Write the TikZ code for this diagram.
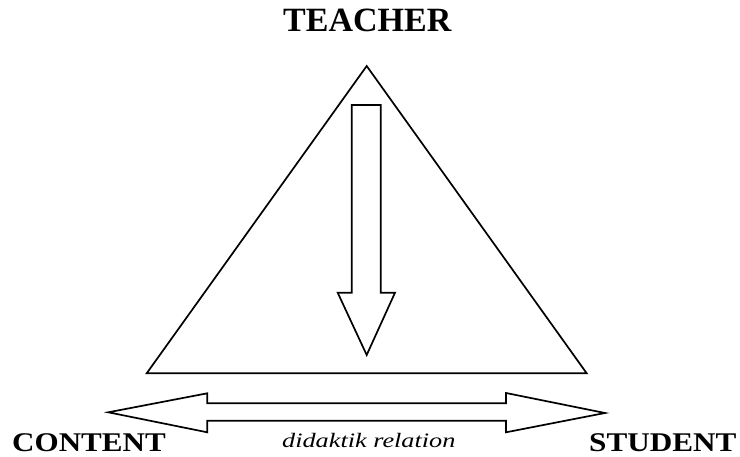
\documentclass[tikz,border=0pt]{standalone}
\usepackage{fontspec}
\usepackage{graphicx}
\setmainfont{Liberation Serif}
\begin{document}
\begin{tikzpicture}[x=1pt,y=-1pt,
  outline/.style={draw=black,line width=1.7pt,line join=miter,fill=white},
  bigcap/.style={inner sep=0pt,anchor=base west,font=\bfseries\fontsize{34}{34}\selectfont},
  smallcap/.style={inner sep=0pt,anchor=base west,font=\bfseries\fontsize{27}{27}\selectfont},
  relation/.style={inner sep=0pt,anchor=base west,font=\itshape\fontsize{20.5}{20.5}\selectfont}]
\useasboundingbox[fill=white] (0,0) rectangle (740,457);
% triangle
\coordinate (apex) at (366.7,66);
\coordinate (bl) at (146.7,373.3);
\coordinate (br) at (586.7,373.3);
\draw[outline,fill=none] (apex) -- (bl) -- (br) -- cycle;
% down arrow
\draw[outline] (351.7,105) -- (380.7,105) -- (380.7,292.7) -- (395,292.7)
  -- (366.7,355) -- (337.7,292.7) -- (351.7,292.7) -- cycle;
% double arrow
\draw[outline] (108.3,412.3) -- (207.3,393.3) -- (207.3,403.3) -- (506,403.3)
  -- (506,393) -- (605,413) -- (506,432.3) -- (506,420.7) -- (207.3,420.7)
  -- (207.3,432.3) -- cycle;
% labels
\node[bigcap] (teacher) at (283,32) {TEACHER};
\node[smallcap] (content) at (12,451) {\scalebox{1.15}[1]{CONTENT}};
\node[smallcap] (student) at (589,451) {\scalebox{1.155}[1]{STUDENT}};
\node[relation] (rel) at (282,447) {\scalebox{1.28}[1]{didaktik relation}};
\end{tikzpicture}
\end{document}
